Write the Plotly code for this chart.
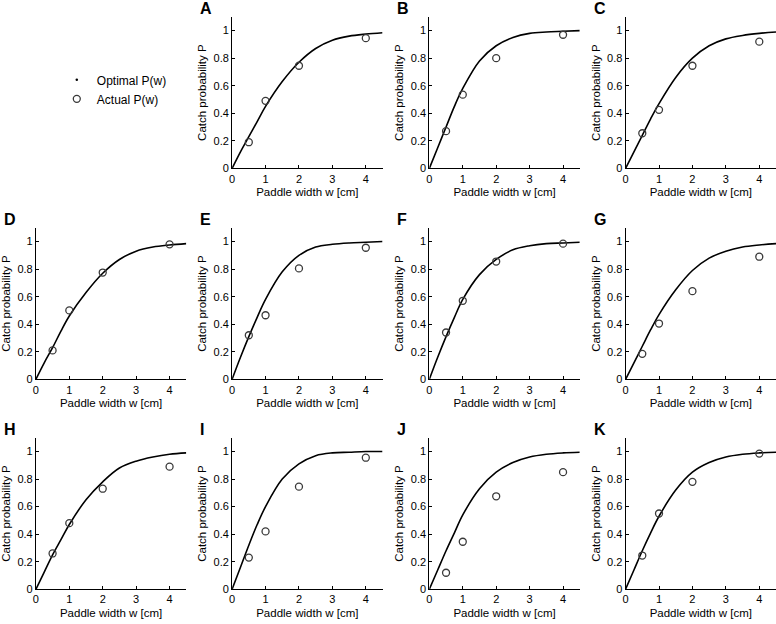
import plotly.graph_objects as go

W, H = 776, 624

panels = ["A", "B", "C", "D", "E", "F", "G", "H", "I", "J", "K"]

# curve sample widths (cm)
curve_w = [0, 0.25, 0.5, 0.75, 1, 1.5, 2, 2.5, 3, 3.5, 4, 4.5]
optimal_A = [0, 0.12, 0.23, 0.34, 0.45, 0.63, 0.77, 0.87, 0.93, 0.96, 0.975, 0.985]
optimal_B = [0, 0.15, 0.30, 0.45, 0.58, 0.78, 0.89, 0.95, 0.98, 0.99, 0.995, 1.0]
optimal_C = [0, 0.12, 0.24, 0.36, 0.47, 0.66, 0.80, 0.89, 0.94, 0.965, 0.98, 0.99]
optimal_D = [0, 0.12, 0.23, 0.35, 0.46, 0.63, 0.77, 0.87, 0.93, 0.96, 0.975, 0.985]
optimal_E = [0, 0.16, 0.31, 0.45, 0.58, 0.78, 0.90, 0.96, 0.98, 0.99, 0.995, 1.0]
optimal_F = [0, 0.16, 0.31, 0.45, 0.58, 0.76, 0.87, 0.94, 0.97, 0.985, 0.99, 0.995]
optimal_G = [0, 0.12, 0.24, 0.36, 0.47, 0.65, 0.79, 0.88, 0.93, 0.96, 0.975, 0.985]
optimal_H = [0, 0.125, 0.25, 0.36, 0.47, 0.65, 0.78, 0.88, 0.93, 0.96, 0.98, 0.99]
optimal_I = [0, 0.16, 0.32, 0.47, 0.60, 0.80, 0.91, 0.97, 0.99, 0.995, 1.0, 1.0]
optimal_J = [0, 0.14, 0.28, 0.41, 0.54, 0.73, 0.85, 0.92, 0.96, 0.98, 0.99, 0.995]
optimal_K = [0, 0.14, 0.28, 0.41, 0.53, 0.72, 0.85, 0.92, 0.96, 0.98, 0.99, 0.995]

# measured paddle widths (cm)
actual_w = [0.5, 1, 2, 4]
actual_A = [0.19, 0.49, 0.745, 0.945]
actual_B = [0.27, 0.535, 0.80, 0.97]
actual_C = [0.255, 0.425, 0.745, 0.92]
actual_D = [0.21, 0.50, 0.775, 0.98]
actual_E = [0.32, 0.465, 0.805, 0.955]
actual_F = [0.34, 0.57, 0.855, 0.985]
actual_G = [0.185, 0.405, 0.64, 0.89]
actual_H = [0.26, 0.48, 0.73, 0.89]
actual_I = [0.23, 0.42, 0.745, 0.955]
actual_J = [0.12, 0.345, 0.675, 0.85]
actual_K = [0.245, 0.55, 0.78, 0.985]

optimal = [optimal_A, optimal_B, optimal_C, optimal_D, optimal_E, optimal_F,
           optimal_G, optimal_H, optimal_I, optimal_J, optimal_K]
actual = [actual_A, actual_B, actual_C, actual_D, actual_E, actual_F,
          actual_G, actual_H, actual_I, actual_J, actual_K]

x_ticks = [0, 1, 2, 3, 4]
y_ticks = [0, 0.2, 0.4, 0.6, 0.8, 1]
y_tick_text = ["0", "0.2", "0.4", "0.6", "0.8", "1"]

# layout in pixels
col_left = [33, 230, 428, 625]
col_w = 151
row_top = [17, 230, 442]
row_h = 153

FONT = "Liberation Sans, Arial, Helvetica, sans-serif"

fig = go.Figure()
layout = dict(
    width=W, height=H,
    margin=dict(l=0, r=0, t=0, b=0),
    paper_bgcolor="white", plot_bgcolor="white",
    font=dict(family=FONT, size=11, color="black"),
    showlegend=True,
    legend=dict(x=54 / W, y=1 - 66 / H, xanchor="left", yanchor="top",
                bgcolor="rgba(0,0,0,0)", borderwidth=0,
                font=dict(family=FONT, size=12, color="black"),
                tracegroupgap=0, itemwidth=30),
)
annotations = []

for i, name in enumerate(panels):
    cell = i + 1
    r, c = divmod(cell, 4)
    idx = i + 1
    xa = "x" if idx == 1 else f"x{idx}"
    ya = "y" if idx == 1 else f"y{idx}"
    x0 = col_left[c] / W
    x1 = min((col_left[c] + col_w) / W, 1.0)
    y1 = 1 - row_top[r] / H
    y0 = 1 - (row_top[r] + row_h) / H
    axis_common = dict(showline=True, linecolor="black", linewidth=1,
                       ticks="inside", ticklen=3, tickcolor="black",
                       showgrid=False, zeroline=False,
                       tickfont=dict(family=FONT, size=11, color="black"))
    layout["xaxis" if idx == 1 else f"xaxis{idx}"] = dict(
        domain=[x0, x1], anchor=ya, range=[0, 4.5],
        tickvals=x_ticks, ticktext=[str(t) for t in x_ticks],
        title=dict(text="Paddle width w [cm]", standoff=4,
                   font=dict(family=FONT, size=11.5, color="black")),
        **axis_common)
    layout["yaxis" if idx == 1 else f"yaxis{idx}"] = dict(
        domain=[y0, y1], anchor=xa, range=[0, 1.1],
        tickvals=y_ticks, ticktext=y_tick_text,
        title=dict(text="Catch probability P", standoff=4,
                   font=dict(family=FONT, size=11.5, color="black")),
        **axis_common)
    fig.add_trace(go.Scatter(
        x=curve_w, y=optimal[i], mode="lines", xaxis=xa, yaxis=ya,
        line=dict(color="black", width=1.6, shape="spline", smoothing=1.0),
        showlegend=False, hoverinfo="skip"))
    fig.add_trace(go.Scatter(
        x=actual_w, y=actual[i], mode="markers", xaxis=xa, yaxis=ya,
        marker=dict(symbol="circle-open", size=7, color="#3a3a3a",
                    line=dict(width=1.3, color="#3a3a3a")),
        showlegend=False, hoverinfo="skip"))
    annotations.append(dict(
        text=f"<b>{name}</b>", x=(col_left[c] - 34) / W, y=1 - (row_top[r] - 8) / H,
        xref="paper", yref="paper", xanchor="left", yanchor="middle",
        showarrow=False, font=dict(family=FONT, size=16, color="black")))

# legend entries
fig.add_trace(go.Scatter(
    x=[None], y=[None], mode="markers", name="Optimal P(w)",
    marker=dict(symbol="circle", size=2.5, color="black")))
fig.add_trace(go.Scatter(
    x=[None], y=[None], mode="markers", name="Actual P(w)",
    marker=dict(symbol="circle-open", size=7, color="#3a3a3a",
                line=dict(width=1.3, color="#3a3a3a"))))

layout["annotations"] = annotations
fig.update_layout(**layout)
fig.write_html("out.html",
               config={"displayModeBar": False},
               post_script="document.body.style.margin='0px';document.body.style.overflow='hidden';")
